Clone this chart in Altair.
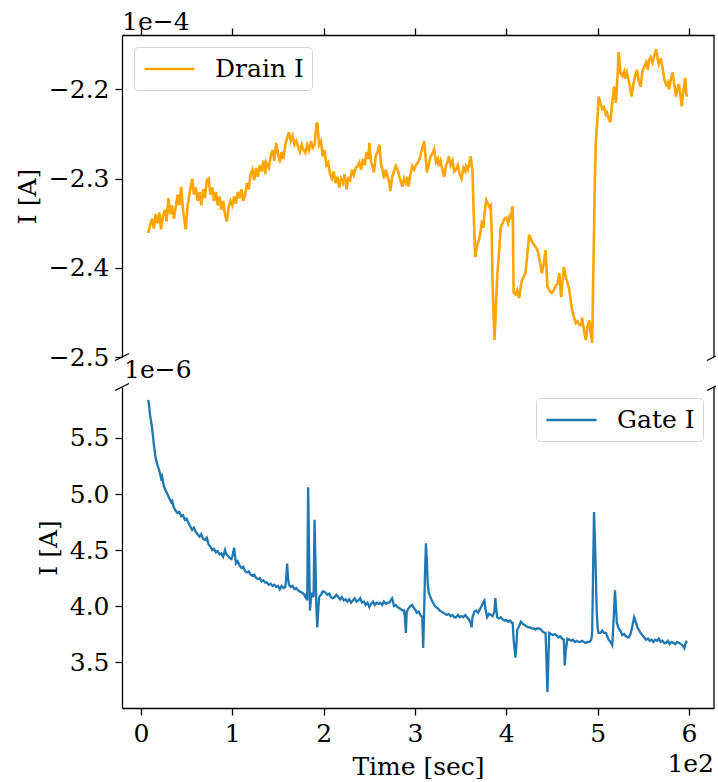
import altair as alt
import pandas as pd

# ---- Drain current (units of 1e-4 A) ----
drain_t = [
    8, 10, 12, 14, 16, 18, 20, 22, 24, 26,
    28, 30, 32, 34, 36, 38, 40, 42, 44, 46,
    49, 51, 53, 56, 58, 60, 62, 64, 66, 68,
    70, 72, 74, 76, 78, 80, 82, 84, 86, 88,
    90, 92, 94, 96, 98, 100, 102, 104, 106, 108,
    110, 112, 114, 116, 118, 120, 122, 124, 126, 128,
    130, 132, 134, 136, 137, 140, 142, 144, 146, 148,
    150, 152, 154, 156, 158, 160, 162, 164, 166, 168,
    170, 172, 174, 176, 178, 180, 182, 184, 186, 188,
    190, 192, 193, 195, 197, 199, 201, 203, 205, 207,
    209, 211, 213, 215, 217, 219, 221, 223, 225, 227,
    229, 231, 233, 235, 237, 239, 241, 243, 245, 247,
    249, 250, 252, 254, 255, 257, 259, 261, 263, 265,
    266, 268, 270, 272, 273, 275, 277, 279, 281, 283,
    285, 286, 288, 290, 292, 293, 295, 297, 299, 301,
    303, 305, 307, 309, 310, 312, 313, 315, 317, 319,
    321, 323, 325, 326, 328, 330, 332, 334, 336, 337,
    339, 341, 343, 345, 347, 349, 351, 353, 355, 356,
    358, 360, 361, 363, 364, 365, 366, 368, 370, 372,
    373, 375, 376, 378, 380, 382, 383, 384, 385, 387,
    388, 389, 390, 392, 394, 396, 398, 400, 402, 404,
    405, 406, 407, 408, 410, 412, 414, 416, 417, 419,
    421, 423, 425, 427, 429, 431, 433, 435, 437, 439,
    441, 443, 444, 445, 447, 449, 450, 452, 454, 456,
    458, 460, 462, 463, 465, 467, 469, 471, 472, 474,
    476, 478, 480, 482, 483, 485, 487, 489, 491, 492,
    494, 495, 496, 497, 498, 500, 501, 503, 505, 507,
    509, 510, 512, 514, 515, 516, 518, 519, 520, 522,
    523, 524, 525, 527, 529, 530, 532, 534, 536, 537,
    539, 541, 543, 545, 547, 549, 551, 553, 555, 556,
    558, 560, 562, 564, 566, 567, 569, 571, 573, 575,
    577, 578, 580, 582, 584, 586, 587, 589, 591, 592,
    594, 596, 597, 598,
]
drain_i = [
    -2.361, -2.352, -2.345, -2.356, -2.340, -2.350, -2.338, -2.357, -2.342, -2.335,
    -2.348, -2.322, -2.340, -2.330, -2.345, -2.332, -2.318, -2.330, -2.309, -2.335,
    -2.357, -2.330, -2.318, -2.300, -2.318, -2.310, -2.325, -2.315, -2.330, -2.312,
    -2.322, -2.302, -2.300, -2.318, -2.310, -2.325, -2.315, -2.330, -2.320, -2.335,
    -2.325, -2.340, -2.348, -2.332, -2.325, -2.330, -2.320, -2.328, -2.315, -2.322,
    -2.312, -2.325, -2.318, -2.305, -2.312, -2.295, -2.290, -2.302, -2.288, -2.298,
    -2.285, -2.292, -2.280, -2.295, -2.282, -2.288, -2.275, -2.268, -2.280, -2.260,
    -2.272, -2.282, -2.270, -2.278, -2.262, -2.255, -2.248, -2.258, -2.252, -2.262,
    -2.258, -2.264, -2.270, -2.262, -2.268, -2.271, -2.262, -2.268, -2.258, -2.265,
    -2.262, -2.240, -2.237, -2.262, -2.258, -2.275, -2.268, -2.285, -2.282, -2.295,
    -2.300, -2.292, -2.305, -2.298, -2.310, -2.300, -2.305, -2.295, -2.312, -2.300,
    -2.302, -2.290, -2.296, -2.288, -2.286, -2.282, -2.290, -2.278, -2.285, -2.270,
    -2.278, -2.260, -2.282, -2.288, -2.293, -2.275, -2.270, -2.262, -2.285, -2.292,
    -2.300, -2.290, -2.298, -2.305, -2.314, -2.298, -2.292, -2.286, -2.290, -2.298,
    -2.305, -2.309, -2.300, -2.305, -2.298, -2.309, -2.295, -2.286, -2.290, -2.285,
    -2.282, -2.278, -2.270, -2.262, -2.258, -2.280, -2.293, -2.285, -2.275, -2.272,
    -2.267, -2.282, -2.278, -2.286, -2.280, -2.290, -2.298, -2.285, -2.280, -2.275,
    -2.285, -2.280, -2.292, -2.290, -2.285, -2.295, -2.300, -2.288, -2.292, -2.286,
    -2.290, -2.280, -2.275, -2.293, -2.330, -2.361, -2.388, -2.375, -2.369, -2.358,
    -2.350, -2.355, -2.340, -2.324, -2.328, -2.333, -2.331, -2.361, -2.420, -2.481,
    -2.460, -2.433, -2.410, -2.383, -2.354, -2.350, -2.345, -2.344, -2.350, -2.340,
    -2.346, -2.335, -2.331, -2.428, -2.430, -2.425, -2.434, -2.420, -2.414, -2.410,
    -2.406, -2.385, -2.363, -2.368, -2.372, -2.375, -2.378, -2.383, -2.395, -2.406,
    -2.395, -2.380, -2.400, -2.421, -2.425, -2.428, -2.428, -2.425, -2.420, -2.418,
    -2.406, -2.433, -2.410, -2.399, -2.410, -2.417, -2.425, -2.440, -2.447, -2.455,
    -2.462, -2.460, -2.464, -2.464, -2.456, -2.470, -2.481, -2.465, -2.459, -2.470,
    -2.484, -2.420, -2.361, -2.300, -2.260, -2.230, -2.208, -2.215, -2.222, -2.220,
    -2.228, -2.226, -2.232, -2.237, -2.225, -2.215, -2.197, -2.205, -2.215, -2.180,
    -2.158, -2.170, -2.182, -2.185, -2.180, -2.188, -2.181, -2.190, -2.200, -2.208,
    -2.195, -2.185, -2.178, -2.190, -2.197, -2.180, -2.175, -2.170, -2.178, -2.168,
    -2.164, -2.170, -2.162, -2.155, -2.168, -2.172, -2.165, -2.175, -2.189, -2.195,
    -2.192, -2.200, -2.190, -2.181, -2.195, -2.208, -2.200, -2.194, -2.210, -2.219,
    -2.200, -2.187, -2.205, -2.208,
]

# ---- Gate current (units of 1e-6 A) ----
gate_t = [
    8, 9, 10, 12, 14, 16, 18, 20, 22, 23,
    25, 27, 29, 31, 33, 34, 36, 38, 40, 42,
    44, 46, 48, 50, 52, 54, 56, 58, 60, 62,
    64, 66, 68, 70, 72, 74, 76, 78, 80, 82,
    84, 86, 88, 90, 92, 93, 95, 97, 99, 100,
    102, 103, 104, 106, 108, 110, 112, 114, 116, 118,
    120, 122, 124, 126, 128, 130, 132, 134, 136, 138,
    140, 142, 144, 146, 148, 150, 152, 154, 156, 158,
    159, 160, 161, 162, 164, 166, 168, 170, 172, 174,
    176, 178, 180, 181, 182, 183, 184, 185, 186, 187,
    188, 189, 190, 191, 192, 193, 194, 195, 197, 199,
    200, 202, 204, 206, 208, 210, 212, 214, 216, 218,
    220, 222, 224, 226, 228, 230, 232, 234, 236, 238,
    240, 242, 244, 246, 248, 250, 252, 254, 256, 258,
    260, 262, 264, 266, 268, 270, 272, 274, 275, 277,
    279, 281, 283, 285, 287, 288, 289, 290, 291, 293,
    295, 297, 299, 301, 302, 304, 306, 308, 309, 310,
    311, 312, 313, 314, 315, 317, 319, 321, 323, 325,
    327, 329, 331, 333, 335, 337, 339, 341, 343, 345,
    347, 349, 351, 353, 355, 357, 359, 361, 362, 363,
    365, 367, 369, 371, 373, 375, 376, 377, 379, 381,
    383, 385, 387, 388, 389, 390, 392, 394, 396, 398,
    400, 402, 404, 406, 407, 408, 410, 411, 412, 414,
    416, 418, 420, 422, 424, 426, 428, 430, 432, 434,
    436, 438, 440, 442, 443, 444, 445, 446, 447, 449,
    451, 453, 455, 457, 459, 461, 463, 464, 465, 467,
    469, 471, 473, 475, 477, 479, 481, 483, 485, 487,
    489, 491, 493, 494, 495, 496, 497, 498, 499, 500,
    501, 503, 505, 507, 509, 511, 512, 514, 516, 517,
    519, 520, 521, 523, 525, 527, 529, 531, 533, 534,
    536, 538, 540, 542, 544, 545, 547, 549, 551, 553,
    555, 557, 559, 561, 563, 565, 567, 569, 571, 573,
    575, 577, 579, 581, 583, 585, 587, 589, 591, 593,
    595, 596, 597, 598,
]
gate_i = [
    5.84, 5.78, 5.70, 5.60, 5.45, 5.32, 5.26, 5.21, 5.14, 5.16,
    5.07, 5.03, 5.00, 4.96, 4.93, 4.94, 4.88, 4.85, 4.83, 4.84,
    4.80, 4.81, 4.77, 4.78, 4.74, 4.71, 4.68, 4.70, 4.66, 4.64,
    4.62, 4.64, 4.60, 4.59, 4.61, 4.55, 4.53, 4.50, 4.51, 4.48,
    4.49, 4.46, 4.47, 4.44, 4.50, 4.47, 4.45, 4.43, 4.42, 4.44,
    4.52, 4.45, 4.38, 4.40, 4.36, 4.34, 4.35, 4.31, 4.30, 4.31,
    4.28, 4.27, 4.28, 4.25, 4.24, 4.25, 4.22, 4.23, 4.21, 4.21,
    4.19, 4.20, 4.18, 4.19, 4.17, 4.18, 4.15, 4.18, 4.16, 4.17,
    4.25, 4.38, 4.25, 4.19, 4.17, 4.18, 4.15, 4.16, 4.14, 4.13,
    4.12, 4.11, 4.08, 4.10, 4.05, 5.06, 4.50, 3.96, 4.05, 4.12,
    4.10, 4.08, 4.77, 4.40, 4.00, 3.81, 3.95, 4.08, 4.10, 4.13,
    4.13, 4.12, 4.10, 4.11, 4.08, 4.07, 4.08, 4.10, 4.08, 4.06,
    4.08, 4.05, 4.06, 4.04, 4.06, 4.03, 4.05, 4.07, 4.04, 4.05,
    4.07, 4.03, 4.04, 4.01, 4.03, 3.99, 4.02, 4.04, 4.01, 4.03,
    4.02, 4.03, 4.01, 4.04, 4.02, 4.03, 4.03, 4.06, 4.07, 4.00,
    4.01, 3.99, 3.98, 3.97, 3.96, 3.96, 3.90, 3.76, 3.95, 3.98,
    4.00, 4.01, 3.98, 3.96, 3.94, 3.95, 3.92, 3.90, 3.625, 3.95,
    4.30, 4.56, 4.40, 4.20, 4.12, 4.08, 4.04, 4.01, 3.99, 3.98,
    3.96, 3.95, 3.94, 3.93, 3.92, 3.93, 3.91, 3.92, 3.90, 3.90,
    3.92, 3.90, 3.91, 3.90, 3.92, 3.90, 3.88, 3.85, 3.81, 3.90,
    3.95, 3.96, 3.94, 3.97, 4.00, 4.04, 4.05, 3.98, 3.90, 3.93,
    3.92, 3.91, 3.95, 4.07, 3.98, 3.90, 3.89, 3.90, 3.88, 3.87,
    3.875, 3.86, 3.87, 3.85, 3.85, 3.70, 3.54, 3.65, 3.79, 3.82,
    3.86, 3.84, 3.83, 3.82, 3.81, 3.81, 3.80, 3.80, 3.79, 3.80,
    3.80, 3.79, 3.77, 3.76, 3.76, 3.50, 3.23, 3.50, 3.76, 3.75,
    3.74, 3.75, 3.74, 3.72, 3.73, 3.71, 3.70, 3.47, 3.60, 3.71,
    3.70, 3.69, 3.70, 3.68, 3.69, 3.68, 3.68, 3.69, 3.68, 3.67,
    3.68, 3.68, 3.70, 3.76, 4.30, 4.84, 4.60, 4.29, 3.95, 3.80,
    3.76, 3.76, 3.78, 3.76, 3.76, 3.72, 3.70, 3.68, 3.65, 3.80,
    4.14, 4.00, 3.85, 3.80, 3.78, 3.74, 3.75, 3.73, 3.72, 3.72,
    3.75, 3.82, 3.90, 3.85, 3.80, 3.79, 3.76, 3.74, 3.72, 3.70,
    3.71, 3.69, 3.70, 3.68, 3.70, 3.69, 3.71, 3.68, 3.69, 3.67,
    3.67, 3.69, 3.66, 3.68, 3.67, 3.66, 3.68, 3.67, 3.66, 3.65,
    3.625, 3.66, 3.68, 3.67,
]

assert len(drain_t) == len(drain_i)
assert len(gate_t) == len(gate_i)

x_ticks = [0, 100, 200, 300, 400, 500, 600]
drain_ticks = [-2.5, -2.4, -2.3, -2.2]
gate_ticks = [3.5, 4.0, 4.5, 5.0, 5.5]

FONT = "DejaVu Serif"
FS = 25
W, H1, H2 = 592, 322, 321
LW = 1.3

df_d = pd.DataFrame({"t": drain_t, "I": drain_i, "series": "Drain I"})
df_g = pd.DataFrame({"t": gate_t, "I": gate_i, "series": "Gate I"})
one = pd.DataFrame({"k": [0]})

x_scale = alt.Scale(domain=[-20.8, 627.4], nice=False, zero=False)


def rule(x1, y1, x2, y2):
    return alt.Chart(one).mark_rule(color="black", strokeWidth=LW).encode(
        x=alt.value(x1), y=alt.value(y1), x2=alt.value(x2), y2=alt.value(y2)
    )


def offset_text(txt, x, y, align):
    return alt.Chart(one).mark_text(
        font=FONT, fontSize=FS, align=align, baseline="alphabetic", color="black"
    ).encode(x=alt.value(x), y=alt.value(y), text=alt.value(txt))


top_line = alt.Chart(df_d).mark_line(strokeWidth=2.6).encode(
    x=alt.X("t:Q", scale=x_scale,
            axis=alt.Axis(orient="top", values=x_ticks, labels=False, title=None)),
    y=alt.Y("I:Q", scale=alt.Scale(domain=[-2.5, -2.139], nice=False, zero=False),
            axis=alt.Axis(values=drain_ticks, format=".1f", title="I [A]")),
    color=alt.Color("series:N",
                    scale=alt.Scale(domain=["Drain I"], range=["#FFA500"]),
                    legend=alt.Legend(orient="top-left", offset=12, title=None)),
)

top = alt.layer(
    top_line,
    rule(W, 0, W, H1),
    rule(-7, H1 + 3.5, 7, H1 - 3.5),
    rule(W - 7, H1 + 3.5, W + 2, H1 - 1),
    offset_text("1e\u22124", 0, -5, "left"),
).properties(width=W, height=H1)

bot_line = alt.Chart(df_g).mark_line(strokeWidth=2.3).encode(
    x=alt.X("t:Q", scale=x_scale,
            axis=alt.Axis(orient="bottom", values=x_ticks,
                          labelExpr="format(datum.value / 100, 'd')",
                          title="Time [sec]", titlePadding=8)),
    y=alt.Y("I:Q", scale=alt.Scale(domain=[3.09, 5.955], nice=False, zero=False),
            axis=alt.Axis(values=gate_ticks, format=".1f", title="I [A]")),
    color=alt.Color("series:N",
                    scale=alt.Scale(domain=["Gate I"], range=["#1f77b4"]),
                    legend=alt.Legend(orient="top-right", offset=11, title=None)),
)

bot = alt.layer(
    bot_line,
    rule(W, 0, W, H2),
    rule(-7, 3.5, 7, -3.5),
    rule(W - 7, 3.5, W + 2, -1),
    offset_text("1e\u22126", 2, -9, "left"),
    offset_text("1e2", W, H2 + 64, "right"),
).properties(width=W, height=H2)

chart = (
    alt.vconcat(top, bot, spacing=30, bounds="flush")
    .resolve_scale(y="independent", color="independent")
    .configure(font=FONT, padding={"left": 15, "top": 10, "right": 0, "bottom": 0})
    .configure_view(stroke=None)
    .configure_axis(
        labelFont=FONT, titleFont=FONT, labelFontSize=FS, titleFontSize=FS,
        titleFontWeight="normal", labelColor="black", titleColor="black",
        domainColor="black", tickColor="black", domainWidth=LW, tickWidth=LW,
        tickSize=7, labelPadding=6, titlePadding=8, grid=False,
    )
    .configure_legend(
        labelFont=FONT, labelFontSize=FS, labelColor="black",
        symbolType="M-2,0H2", symbolSize=625, symbolStrokeWidth=2.5,
        symbolOffset=13.5,
        strokeColor="#d5d5d5", fillColor="white", cornerRadius=4,
        padding=8, labelOffset=31.5,
    )
)

chart.save("out.html", embed_options={"renderer": "svg", "actions": False})
